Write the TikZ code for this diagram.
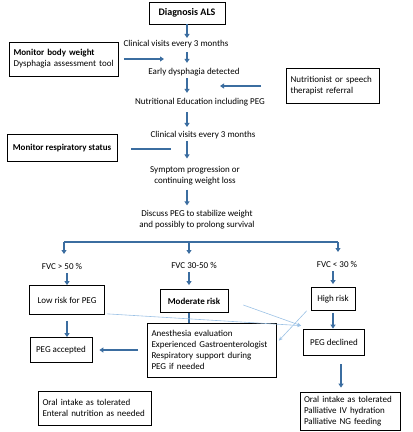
\documentclass[tikz,border=0pt]{standalone}
\usepackage{fontspec}
\setmainfont{Carlito}
\usepackage{tikz}
\usetikzlibrary{arrows.meta,positioning,calc}
\definecolor{flow}{HTML}{3B6DA0}
\definecolor{flowlight}{HTML}{9CC2E5}
\newcommand\diafont{\fontsize{9}{11}\selectfont}
\tikzset{
  box/.style={draw=black,line width=0.7pt,fill=white,inner sep=4pt,font=\diafont,align=center},
  txt/.style={inner sep=2pt,font=\diafont,align=center},
  arr/.style={draw=flow,line width=1.6pt,-{Triangle[length=4pt,width=5pt]}},
  flowline/.style={draw=flow,line width=1.6pt},
  thinarr/.style={draw=flowlight,line width=0.6pt,-{Stealth[length=4pt,width=3.5pt]}}
}
\begin{document}
\begin{tikzpicture}[x=1pt,y=-1pt]
\useasboundingbox (0,0) rectangle (413,432);
% main column
\node[box,font=\fontsize{10}{12}\selectfont\bfseries,minimum width=76pt,minimum height=22pt] (dx) at (187,13) {Diagnosis ALS};
\node[txt] (cv1) at (176,44) {Clinical visits every 3 months};
\node[txt] (ed) at (194,72) {Early dysphagia detected};
\node[txt] (ne) at (200,102) {Nutritional Education including PEG};
\node[txt] (cv2) at (203,135) {Clinical visits every 3 months};
\node[txt] (sp) at (195,176) {Symptom progression or\\continuing weight loss};
\node[txt] (dp) at (197,220) {Discuss PEG to stabilize weight\\and possibly to prolong survival};
\coordinate (col) at (187,0);
% side boxes
\node[box,text width=101pt,align=left,minimum height=34pt] (mbw) at (64,59) {\textbf{Monitor body weight}\\Dysphagia assessment tool};
\node[box,text width=85pt,align=left,minimum height=35pt] (ntr) at (333,86) {Nutritionist or speech\\therapist referral};
\node[box,font=\diafont\bfseries,minimum width=110pt,minimum height=27pt] (mrs) at (62,148) {Monitor respiratory status};
\coordinate (c1) at (164,59);
\coordinate (c2) at (220,86);
\coordinate (c3) at (171,149);
% branch
\coordinate (bl) at (64,242);
\coordinate (bm) at (189,242);
\coordinate (br) at (338,242);
\coordinate (dl) at (64,254);
\coordinate (dm) at (189,254);
\coordinate (dr) at (338,252);
\node[txt] (f50) at (62,266) {FVC > 50 \%};
\node[txt] (f3050) at (194,265) {FVC 30-50 \%};
\node[txt] (f30) at (337,264) {FVC < 30 \%};
% risk boxes
\node[box,minimum width=75pt,minimum height=29pt] (lr) at (67,300) {Low risk for PEG};
\node[box,font=\diafont\bfseries,minimum width=68pt,minimum height=23pt] (mr) at (194,301) {Moderate risk};
\node[box,minimum width=44pt,minimum height=23pt] (hr) at (333,299) {High risk};
\node[box,minimum width=61pt,minimum height=26pt] (pd) at (334,342) {PEG declined};
\node[box,text width=121pt,align=left,minimum height=54pt] (an) at (212,350) {Anesthesia evaluation\\Experienced Gastroenterologist\\Respiratory support during\\PEG if needed};
\node[box,minimum width=62pt,minimum height=25pt] (pa) at (61,350) {PEG accepted};
\node[box,text width=92pt,align=left,minimum height=38pt] (op) at (350,411) {Oral intake as tolerated\\Palliative IV hydration\\Palliative NG feeding};
\node[box,text width=105pt,align=left,minimum height=34pt] (oe) at (95,408) {Oral intake as tolerated\\Enteral nutrition as needed};
% main arrows
\draw[arr] (dx.south -| col) -- (col |- cv1.north);
\draw[arr,shorten <=2pt,shorten >=3pt] (col |- cv1.south) -- (col |- ed.north);
\draw[arr,shorten >=3pt] (col |- ed.south) -- (col |- ne.north);
\draw[arr,shorten <=4pt,shorten >=2pt] (col |- ne.south) -- (col |- cv2.north);
\draw[arr,shorten >=6pt] (col |- cv2.south) -- (col |- sp.north);
\draw[arr,shorten <=2pt,shorten >=3pt] (col |- sp.south) -- (col |- dp.north);
\draw[arr,shorten <=5pt] (mbw.east |- c1) -- (c1);
\draw[arr,shorten <=25pt] (ntr.west |- c2) -- (c2);
\draw[flowline,shorten <=14pt] (mrs.east |- c3) -- (c3);
% branch arrows
\draw[flowline] (bl) -- (br);
\draw[arr] (bl) -- (dl);
\draw[arr] (bm) -- (dm);
\draw[arr] (br) -- (dr);
\draw[arr,shorten <=2pt] (f50.south -| lr.north) -- (lr.north);
\draw[arr,shorten <=2pt,shorten >=4pt] (f3050.south -| bm) -- (bm |- mr.north);
\draw[arr,shorten <=2pt,shorten >=3pt] (f30.south -| hr.north) -- (hr.north);
% lower arrows
\draw[flowline] (mr.south -| bm) -- (bm |- an.north);
\draw[arr,shorten <=6pt] (lr.south) -- (lr.south |- pa.north);
\draw[arr,shorten <=9pt,shorten >=7pt] (an.west) -- (pa.east);
\draw[arr,shorten <=2pt] (hr.south) -- (hr.south |- pd.north);
\draw[arr,shorten <=9pt,shorten >=4pt] ([xshift=7pt]pd.south) -- ([xshift=7pt]pd.south |- op.north);
% thin arrows
\draw[thinarr] ([xshift=2pt,yshift=1pt]lr.south east) -- ([xshift=-2pt,yshift=3pt]pd.north west);
\draw[thinarr] ([xshift=15pt,yshift=-4pt]mr.east) -- ([xshift=-2pt,yshift=3pt]pd.north west);
\draw[thinarr] ([xshift=-4pt]hr.south west) -- ([xshift=2pt,yshift=-18pt]an.north east);
\end{tikzpicture}
\end{document}
